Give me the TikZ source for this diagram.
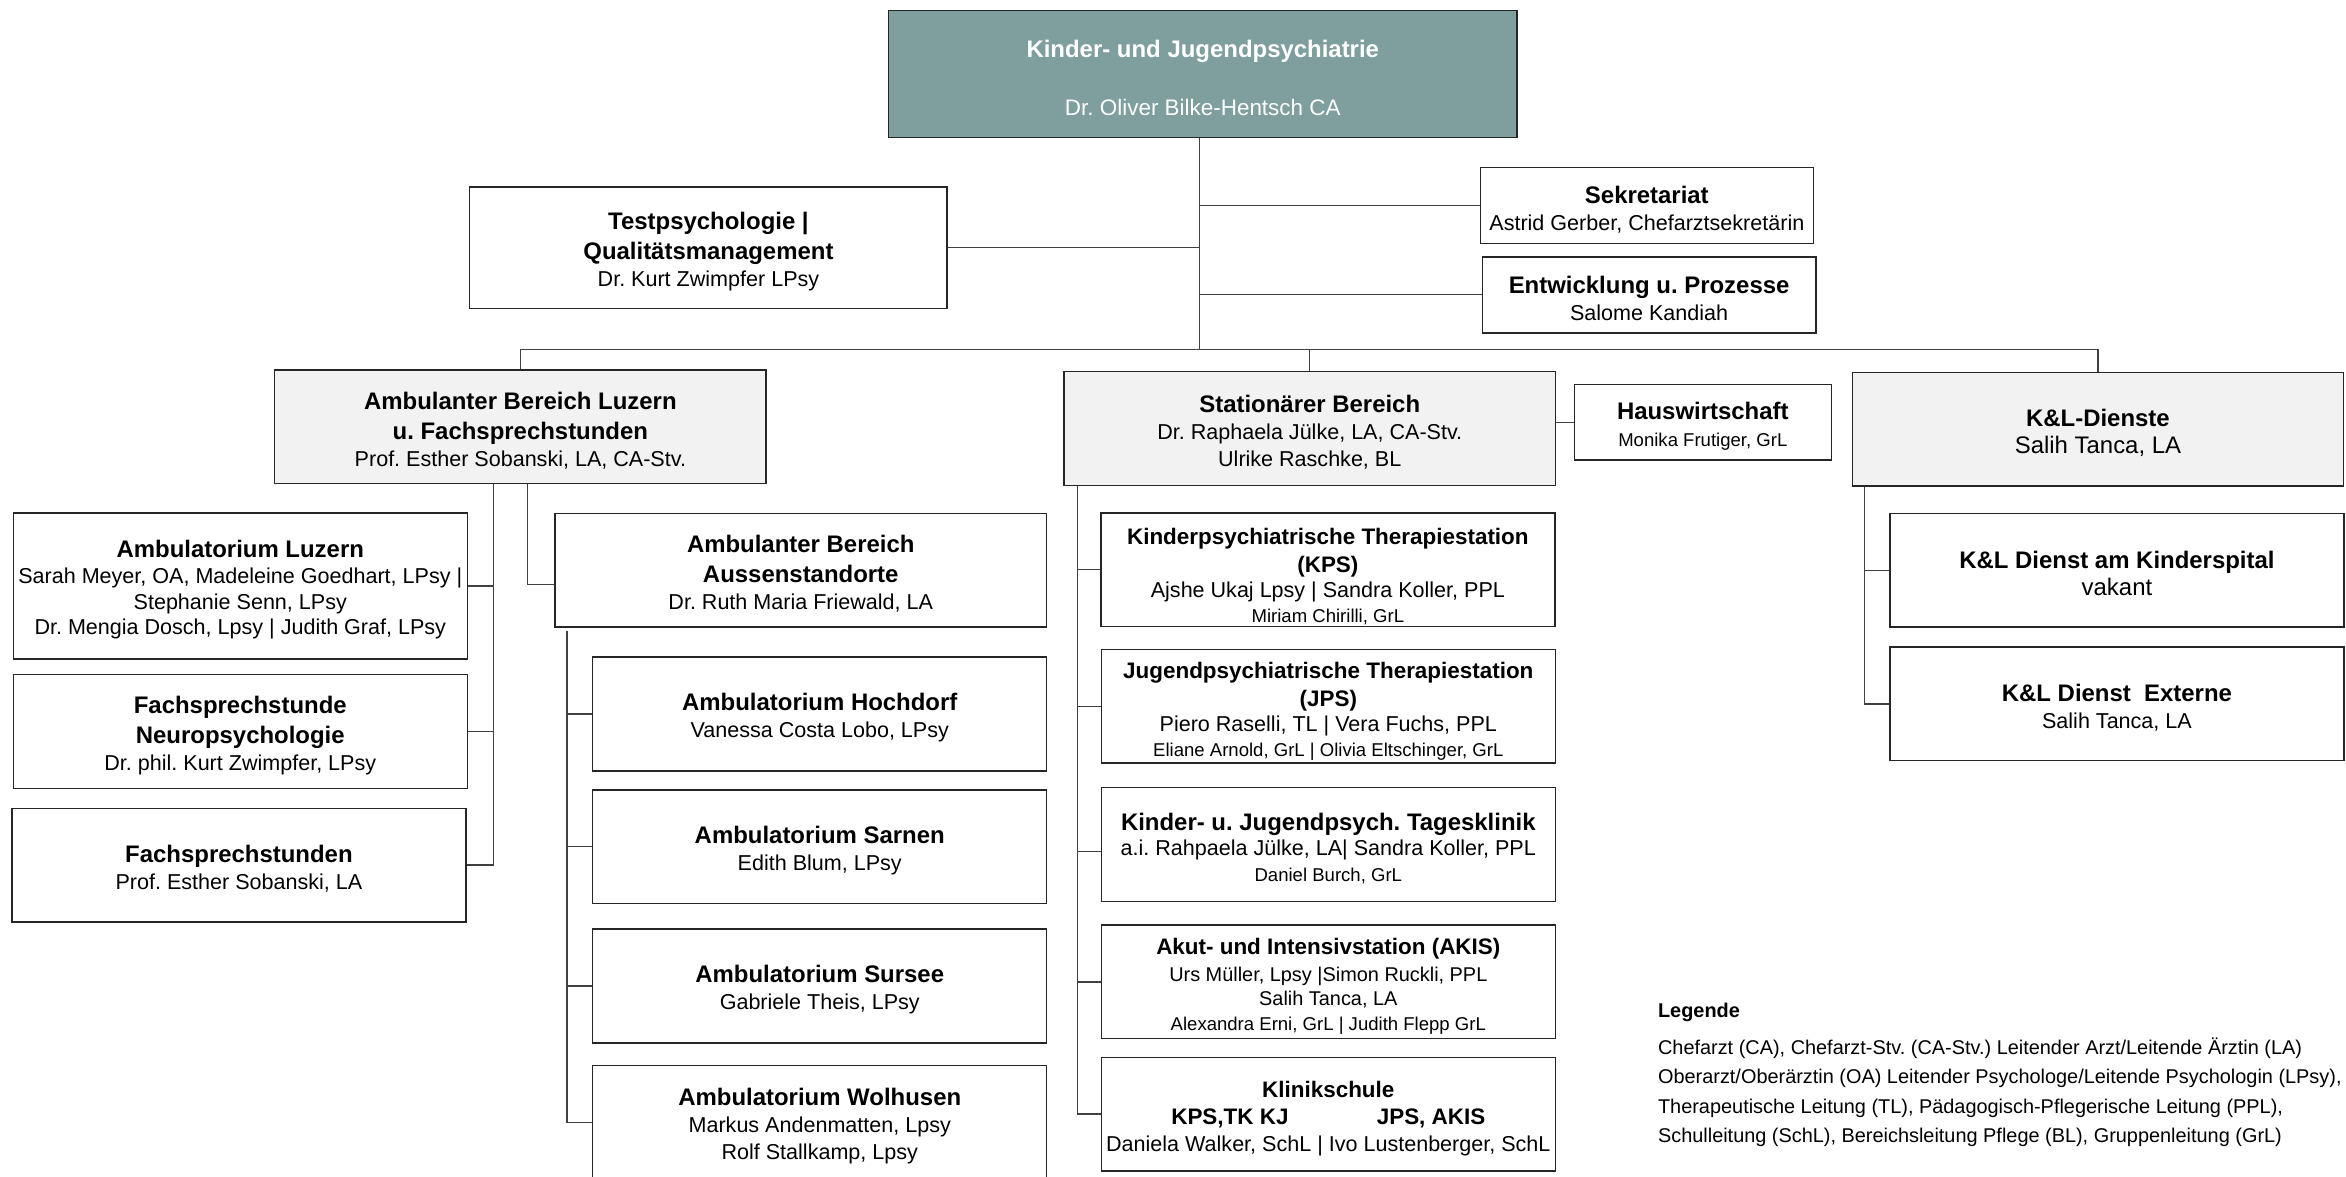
\documentclass[tikz,border=0pt]{standalone}
\usepackage{fontspec}
\setmainfont{Liberation Sans}
\usepackage{tikz}

\definecolor{headteal}{HTML}{7F9E9E}
\newcommand{\boxstrut}[1][16.5pt]{\rule{0pt}{#1}}
\newcommand{\headtxt}[1]{{\fontsize{16}{18}\selectfont\bfseries #1}}
\newcommand{\midhead}[1]{{\fontsize{15}{18}\selectfont\bfseries #1}}
\newcommand{\smalltxt}[1]{{\fontsize{12.4}{18}\selectfont #1}}
\newcommand{\bigtxt}[1]{{\fontsize{16}{18}\selectfont #1}}
\frenchspacing

\begin{document}
\begin{tikzpicture}[x=1pt, y=-1pt,
  unitbox/.style={draw=black!85, line width=0.9pt, inner sep=0pt, align=center,
    font=\fontsize{14.4}{18}\selectfont, minimum width=303.4pt, minimum height=76pt},
  areabox/.style={unitbox, fill=black!5, minimum width=328.5pt},
  linkline/.style={draw=black!75, line width=0.8pt}]
\useasboundingbox (0,0) rectangle (1568,786.1);

% Leitung und Stab
\node[unitbox, fill=headteal, text=white, minimum width=420pt, minimum height=85pt] (KJP) at (803.9,49.5)
  {\boxstrut\headtxt{Kinder- und Jugendpsychiatrie}\\[21pt]{\fontsize{15}{18}\selectfont Dr. Oliver Bilke-Hentsch CA}};
\node[unitbox, minimum width=319pt, minimum height=81pt] (TQM) at (473.5,165.5)
  {\boxstrut\headtxt{Testpsychologie |}\\[2pt]\headtxt{Qualitätsmanagement}\\Dr. Kurt Zwimpfer LPsy};
\node[unitbox, minimum width=222.7pt, minimum height=50.8pt] (SEK) at (1100.7,137.4)
  {\boxstrut\headtxt{Sekretariat}\\Astrid Gerber, Chefarztsekretärin};
\node[unitbox, minimum width=223.1pt, minimum height=50.8pt] (EUP) at (1102.2,197.1)
  {\boxstrut\headtxt{Entwicklung u. Prozesse}\\Salome Kandiah};

% Bereiche
\node[areabox] (ABL) at (347.8,285.3)
  {\boxstrut\headtxt{Ambulanter Bereich Luzern}\\[2pt]\headtxt{u. Fachsprechstunden}\\Prof. Esther Sobanski, LA, CA-Stv.};
\node[areabox] (STB) at (875.4,286.4)
  {\boxstrut\headtxt{Stationärer Bereich}\\Dr. Raphaela Jülke, LA, CA-Stv.\\Ulrike Raschke, BL};
\node[areabox] (KLD) at (1402.2,286.9)
  {\boxstrut\headtxt{K\&L-Dienste}\\\bigtxt{Salih Tanca, LA}};
\node[unitbox, minimum width=171.8pt, minimum height=50.6pt] (HW) at (1138.1,282.2)
  {\boxstrut\headtxt{Hauswirtschaft}\\\smalltxt{Monika Frutiger, GrL}};

% Ambulant
\node[unitbox, minimum height=97.6pt, font=\fontsize{14.4}{17.3}\selectfont] (AL) at (160.6,391.7)
  {\boxstrut\headtxt{Ambulatorium Luzern}\\Sarah Meyer, OA, Madeleine Goedhart, LPsy |\\Stephanie Senn, LPsy\\Dr. Mengia Dosch, Lpsy | Judith Graf, LPsy};
\node[unitbox] (FN) at (160.6,489)
  {\boxstrut\headtxt{Fachsprechstunde}\\[2pt]\headtxt{Neuropsychologie}\\Dr. phil. Kurt Zwimpfer, LPsy};
\node[unitbox] (FS) at (159.7,578.2)
  {\boxstrut\headtxt{Fachsprechstunden}\\Prof. Esther Sobanski, LA};
\node[unitbox, minimum width=328.7pt] (AST) at (535.2,381)
  {\boxstrut\headtxt{Ambulanter Bereich}\\[2pt]\headtxt{Aussenstandorte}\\Dr. Ruth Maria Friewald, LA};
\node[unitbox] (HD) at (547.9,477.2) {\boxstrut\headtxt{Ambulatorium Hochdorf}\\Vanessa Costa Lobo, LPsy};
\node[unitbox] (SA) at (547.9,566) {\boxstrut\headtxt{Ambulatorium Sarnen}\\Edith Blum, LPsy};
\node[unitbox] (SU) at (547.9,659) {\boxstrut\headtxt{Ambulatorium Sursee}\\Gabriele Theis, LPsy};
\node[unitbox] (WO) at (547.9,750.2)
  {\boxstrut\headtxt{Ambulatorium Wolhusen}\\Markus Andenmatten, Lpsy\\Rolf Stallkamp, Lpsy};

% Stationaer
\node[unitbox, font=\fontsize{14.4}{16.8}\selectfont] (KPS) at (887.5,380.8)
  {\boxstrut[20pt]\midhead{Kinderpsychiatrische Therapiestation}\\[2pt]\midhead{(KPS)}\\Ajshe Ukaj Lpsy | Sandra Koller, PPL\\\smalltxt{Miriam Chirilli, GrL}};
\node[unitbox, font=\fontsize{14.4}{16.8}\selectfont] (JPS) at (887.8,472)
  {\boxstrut[17.5pt]\midhead{Jugendpsychiatrische Therapiestation}\\[2pt]\midhead{(JPS)}\\Piero Raselli, TL | Vera Fuchs, PPL\\\smalltxt{Eliane Arnold, GrL | Olivia Eltschinger, GrL}};
\node[unitbox, font=\fontsize{14.4}{17}\selectfont] (TK) at (887.8,564.5)
  {\boxstrut\headtxt{Kinder- u. Jugendpsych. Tagesklinik}\\a.i. Rahpaela Jülke, LA| Sandra Koller, PPL\\\smalltxt{Daniel Burch, GrL}};
\node[unitbox, font=\fontsize{13.3}{16.5}\selectfont] (AKIS) at (887.8,656.3)
  {\boxstrut\midhead{Akut- und Intensivstation (AKIS)}\\[1.5pt]Urs Müller, Lpsy |Simon Ruckli, PPL\\Salih Tanca, LA\\\smalltxt{Alexandra Erni, GrL | Judith Flepp GrL}};
\node[unitbox] (KS) at (887.8,744.6)
  {\boxstrut\midhead{Klinikschule}\\\midhead{KPS,TK KJ\hspace{59pt}JPS, AKIS}\\Daniela Walker, SchL | Ivo Lustenberger, SchL};

% K&L
\node[unitbox] (KDK) at (1414.9,381.1) {\boxstrut\headtxt{K\&L Dienst am Kinderspital}\\\bigtxt{vakant}};
\node[unitbox] (KDE) at (1414.9,470.5) {\boxstrut\headtxt{K\&L Dienst~~Externe}\\Salih Tanca, LA};

% Legende
\node[anchor=west, inner sep=0pt, font=\fontsize{13.3}{19.7}\selectfont\bfseries] (LEG) at (1108,676.4) {Legende};
\node[anchor=west, inner sep=0pt, align=left, font=\fontsize{13.3}{19.7}\selectfont] (LEGT) at (1108,729.9)
  {Chefarzt (CA), Chefarzt-Stv. (CA-Stv.) Leitender Arzt/Leitende Ärztin (LA)\\
   Oberarzt/Oberärztin (OA) Leitender Psychologe/Leitende Psychologin (LPsy),\\
   Therapeutische Leitung (TL), Pädagogisch-Pflegerische Leitung (PPL),\\
   Schulleitung (SchL), Bereichsleitung Pflege (BL), Gruppenleitung (GrL)};

% Verbindungen
\coordinate (T) at (801.5,233.5);
\coordinate (SP) at ([xshift=-155.4pt]STB.south);
\coordinate (KP) at ([xshift=-156.1pt]KLD.south);
\coordinate (AP) at ([xshift=-17.7pt]ABL.south);
\coordinate (BP) at ([xshift=4.8pt]ABL.south);
\coordinate (CP) at ([xshift=-156.3pt,yshift=-2.2pt]AST.south);

\draw[linkline] (KJP.south -| T) -- (T);
\draw[linkline] (SEK.west) -- (SEK.west -| T);
\draw[linkline] (EUP.west) -- (EUP.west -| T);
\draw[linkline] (TQM.east) -- (TQM.east -| T);
\draw[linkline] (ABL.north) |- (T) -| (KLD.north);
\draw[linkline] (STB.north) |- (T);
\draw[linkline] (HW.west) -- (HW.west -| STB.east);

\draw[linkline] (SP) |- (KS.west);
\foreach \n in {KPS,JPS,AKIS}
  \draw[linkline] (\n.west) -- (\n.west -| SP);
\draw[linkline] ([yshift=-4.8pt]TK.west) -- ([yshift=-4.8pt]TK.west -| SP);

\draw[linkline] (KP) |- (KDE.west);
\draw[linkline] (KDK.west) -- (KDK.west -| KP);

\draw[linkline] (AP) |- (FS.east);
\foreach \n in {AL,FN}
  \draw[linkline] (\n.east) -- (\n.east -| AP);
\draw[linkline] (BP) |- ([yshift=-9.6pt]AST.west);

\draw[linkline] (CP) |- (WO.west);
\foreach \n in {HD,SA,SU}
  \draw[linkline] (\n.west) -- (\n.west -| CP);
\end{tikzpicture}
\end{document}
